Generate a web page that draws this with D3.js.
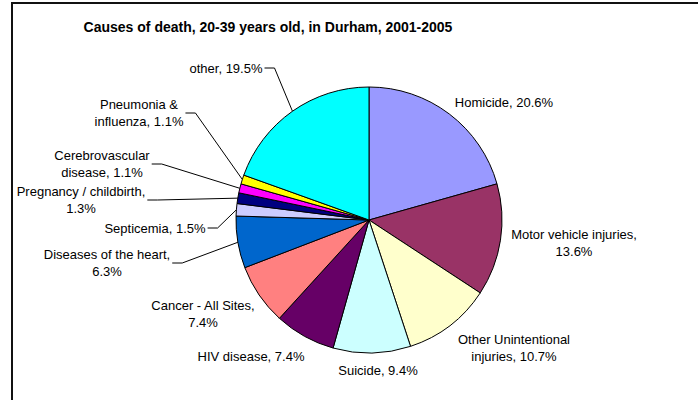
<!DOCTYPE html>
<html>
<head>
<meta charset="utf-8">
<script src="https://cdn.jsdelivr.net/npm/d3@7"></script>
<style>
  body { margin: 0; background: #fff; }
  text { font-family: "Liberation Sans", Arial, sans-serif; fill: #000; }
</style>
</head>
<body>
<svg width="698" height="400"></svg>
<script>
(function (d3) {
  "use strict";

  // data, clockwise from 12 o'clock
  const causes = [
    "Homicide", "Motor vehicle injuries", "Other Unintentional injuries",
    "Suicide", "HIV disease", "Cancer - All Sites", "Diseases of the heart",
    "Septicemia", "Pregnancy / childbirth", "Cerebrovascular disease",
    "Pneumonia & influenza", "other"
  ];
  const shares = [20.6, 13.6, 10.7, 9.4, 7.4, 7.4, 6.3, 1.5, 1.3, 1.1, 1.1, 19.5];
  const colours = [
    "#9999FF", "#993366", "#FFFFCC", "#CCFFFF", "#660066", "#FF8080",
    "#0066CC", "#CCCCFF", "#000080", "#FF00FF", "#FFFF00", "#00FFFF"
  ];
  // how each label is broken into lines (text before the value)
  const labelLines = [
    ["Homicide, "], ["Motor vehicle injuries,", ""], ["Other Unintentional", "injuries, "],
    ["Suicide, "], ["HIV disease, "], ["Cancer - All Sites,", ""], ["Diseases of the heart,", ""],
    ["Septicemia, "], ["Pregnancy / childbirth,", ""], ["Cerebrovascular", "disease, "],
    ["Pneumonia &", "influenza, "], ["other, "]
  ];

  // layout: label block centres (Excel style manual placement) and leader flags
  const labelPos = [
    [504, 102], [574, 243], [514, 348], [378, 370], [251, 356], [203, 314],
    [107, 263], [155, 228], [81, 200], [102, 164], [139, 113], [226, 68]
  ];
  const hasLeader = [false, false, false, false, false, false, true, true, true, true, true, true];

  const svg = d3.select("svg");
  const cx = 369, cy = 220, radius = 133;
  const lineH = 17;

  // chart frame
  svg.append("rect")
    .attr("x", 12).attr("y", 3)
    .attr("width", 720).attr("height", 420)
    .attr("fill", "none")
    .attr("stroke", "#111")
    .attr("stroke-width", 2);

  svg.append("text")
    .attr("x", 268).attr("y", 32)
    .attr("text-anchor", "middle")
    .attr("font-size", 14)
    .attr("font-weight", "bold")
    .text("Causes of death, 20-39 years old, in Durham, 2001-2005");

  const data = causes.map((c, i) => ({ cause: c, share: shares[i], i }));

  const pie = d3.pie().sort(null).value((d) => d.share);
  const arc = d3.arc().innerRadius(0).outerRadius(radius);
  const arcs = pie(data);

  const g = svg.append("g").attr("transform", `translate(${cx},${cy})`);

  g.selectAll("path")
    .data(arcs)
    .enter()
    .append("path")
    .attr("d", arc)
    .attr("fill", (d) => colours[d.data.i])
    .attr("stroke", "#000")
    .attr("stroke-width", 1)
    .attr("stroke-linejoin", "round");

  const labels = svg.append("g");

  arcs.forEach((a) => {
    const i = a.data.i;
    const lines = labelLines[i].slice();
    lines[lines.length - 1] += a.data.share.toFixed(1) + "%";
    const [lx, ly] = labelPos[i];
    const top = ly - ((lines.length - 1) * lineH) / 2;

    const t = labels.append("text")
      .attr("text-anchor", "middle")
      .attr("font-size", 13);
    lines.forEach((s, k) => {
      t.append("tspan")
        .attr("x", lx)
        .attr("y", top + k * lineH)
        .attr("dy", "0.35em")
        .text(s);
    });

    if (hasLeader[i]) {
      let w = 0;
      t.selectAll("tspan").each(function () {
        w = Math.max(w, this.getComputedTextLength());
      });
      const mid = (a.startAngle + a.endAngle) / 2;
      const px = cx + radius * Math.sin(mid);
      const py = cy - radius * Math.cos(mid);
      const sx = lx + w / 2 + 2;
      const pts = [[sx, ly], [sx + 10, ly], [px, py]];
      labels.append("path")
        .attr("d", d3.line()(pts))
        .attr("fill", "none")
        .attr("stroke", "#000")
        .attr("stroke-width", 1);
    }
  });
})(d3);
</script>
</body>
</html>
